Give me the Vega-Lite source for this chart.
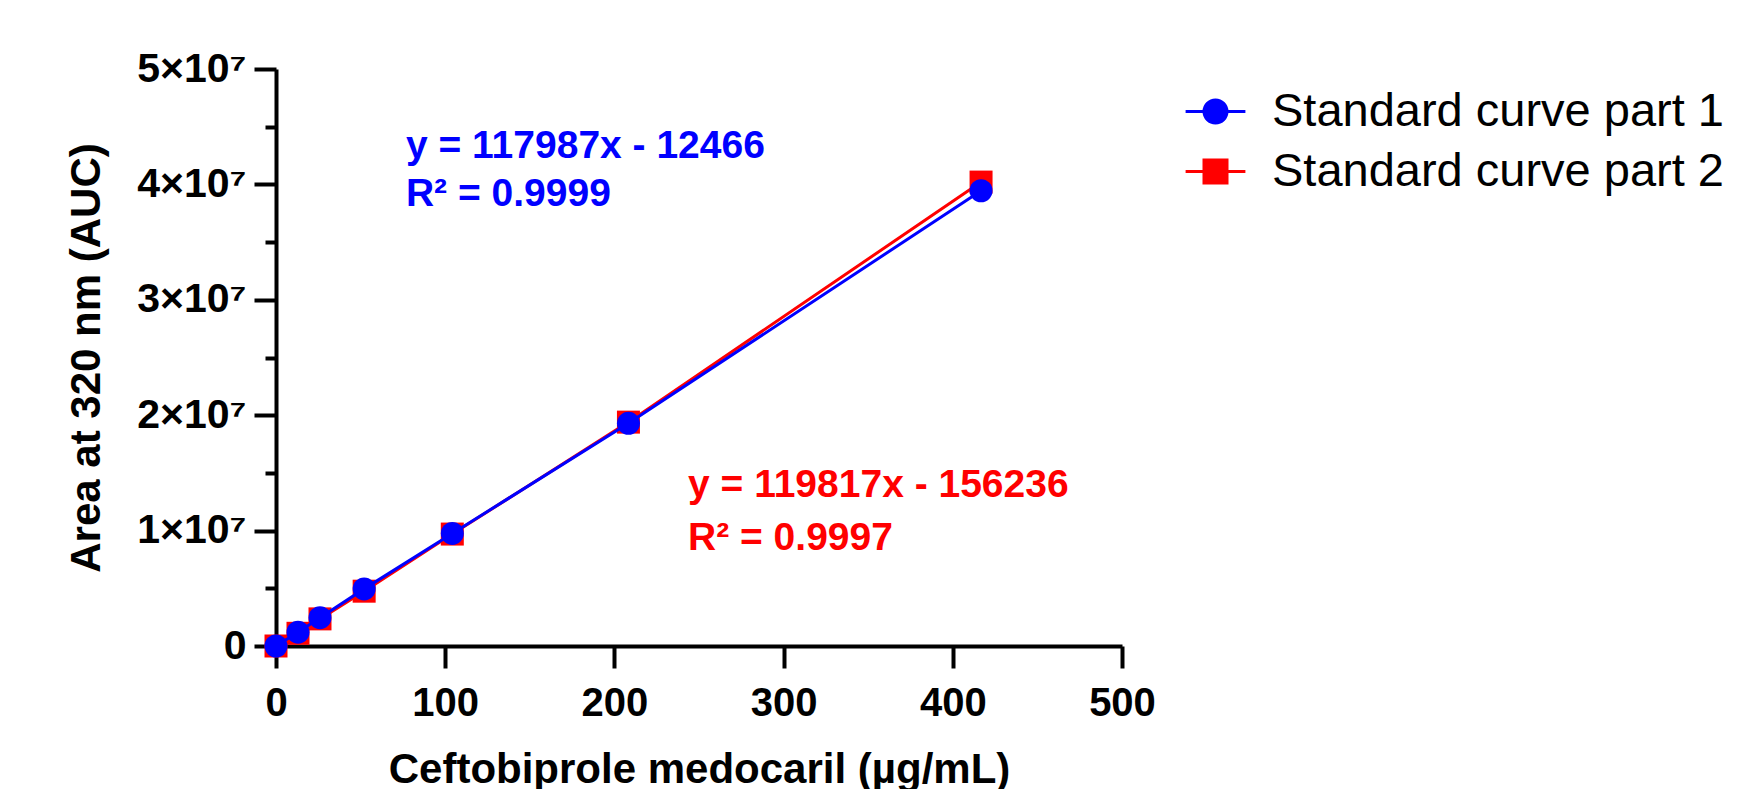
{
  "$schema": "https://vega.github.io/schema/vega-lite/v6.json",
  "width": 846,
  "height": 577,
  "autosize": {"type": "none"},
  "padding": {"left": 276, "top": 69, "right": 618, "bottom": 143},
  "background": "white",
  "config": {"view": {"stroke": null}, "font": "Liberation Sans"},
  "datasets": {
    "points": [
      {"conc": 0, "area": 0, "series": "Standard curve part 2"},
      {"conc": 13.0, "area": 1100000, "series": "Standard curve part 2"},
      {"conc": 26.0, "area": 2350000, "series": "Standard curve part 2"},
      {"conc": 52.1, "area": 4750000, "series": "Standard curve part 2"},
      {"conc": 104.2, "area": 9700000, "series": "Standard curve part 2"},
      {"conc": 208.3, "area": 19400000, "series": "Standard curve part 2"},
      {"conc": 416.7, "area": 40200000, "series": "Standard curve part 2"},
      {"conc": 0, "area": 0, "series": "Standard curve part 1"},
      {"conc": 13.0, "area": 1200000, "series": "Standard curve part 1"},
      {"conc": 26.0, "area": 2450000, "series": "Standard curve part 1"},
      {"conc": 52.1, "area": 4950000, "series": "Standard curve part 1"},
      {"conc": 104.2, "area": 9750000, "series": "Standard curve part 1"},
      {"conc": 208.3, "area": 19300000, "series": "Standard curve part 1"},
      {"conc": 416.7, "area": 39450000, "series": "Standard curve part 1"}
    ],
    "notes": [
      {"conc": 76.8, "area": 43300000, "label": "y = 117987x - 12466", "series": "Standard curve part 1"},
      {"conc": 76.8, "area": 39170000, "label": "R² = 0.9999", "series": "Standard curve part 1"},
      {"conc": 243.5, "area": 13950000, "label": "y = 119817x - 156236", "series": "Standard curve part 2"},
      {"conc": 243.5, "area": 9360000, "label": "R² = 0.9997", "series": "Standard curve part 2"}
    ]
  },
  "data": {"name": "points"},
  "encoding": {
    "x": {
      "field": "conc",
      "type": "quantitative",
      "scale": {"domain": [0, 500], "nice": false},
      "axis": {
        "values": [0, 100, 200, 300, 400, 500],
        "grid": false,
        "tickSize": 22,
        "tickWidth": 4,
        "tickColor": "black",
        "domainWidth": 4,
        "domainColor": "black",
        "labelFontSize": 40,
        "labelFontWeight": "bold",
        "labelColor": "black",
        "labelPadding": 15,
        "labelFlush": false,
        "labelOverlap": false,
        "title": "Ceftobiprole medocaril (µg/mL)",
        "titleFontSize": 42,
        "titleFontWeight": "bold",
        "titleColor": "black",
        "titlePadding": 26
      }
    },
    "y": {
      "field": "area",
      "type": "quantitative",
      "scale": {"domain": [0, 50000000], "nice": false},
      "axis": {
        "values": [0, 5000000, 10000000, 15000000, 20000000, 25000000, 30000000, 35000000, 40000000, 45000000, 50000000],
        "labelExpr": "datum.value === 0 ? '0' : (datum.value % 10000000 === 0 ? format(datum.value / 10000000, 'd') + '×10⁷' : '')",
        "grid": false,
        "tickSize": {"condition": {"test": "datum.value % 10000000 !== 0", "value": 11}, "value": 22},
        "tickWidth": 4,
        "tickColor": "black",
        "domainWidth": 4,
        "domainColor": "black",
        "labelFontSize": 41,
        "labelFontWeight": "bold",
        "labelColor": "black",
        "labelPadding": 8,
        "labelFlush": false,
        "labelOverlap": false,
        "title": "Area at 320 nm (AUC)",
        "titleFontSize": 42,
        "titleFontWeight": "bold",
        "titleColor": "black",
        "titlePadding": 28
      }
    },
    "color": {
      "field": "series",
      "type": "nominal",
      "scale": {"domain": ["Standard curve part 1", "Standard curve part 2"], "range": ["#0000ff", "#ff0000"]},
      "legend": {
        "title": null,
        "orient": "none",
        "legendX": 916,
        "legendY": 19,
        "padding": 0,
        "labelFontSize": 47,
        "labelFont": "Liberation Sans",
        "labelColor": "black",
        "labelLimit": 0,
        "symbolSize": 529,
        "symbolStrokeWidth": 3,
        "labelOffset": 33,
        "rowPadding": 12,
        "encode": {
          "symbols": {
            "update": {
              "shape": {"signal": "datum.value === 'Standard curve part 1' ? 'M-2.6,0H2.6M1,0A1,1,0,1,1,-1,0A1,1,0,1,1,1,0Z' : 'M-2.6,0H2.6M-1,-1H1V1H-1Z'"},
              "fill": {"scale": "color", "field": "value"},
              "stroke": {"scale": "color", "field": "value"},
              "strokeWidth": {"value": 3},
              "opacity": {"value": 1},
              "fillOpacity": {"value": 1}
            }
          }
        }
      }
    }
  },
  "layer": [
    {
      "transform": [{"filter": "datum.series === 'Standard curve part 2'"}],
      "mark": {"type": "line", "strokeWidth": 3}
    },
    {
      "transform": [{"filter": "datum.series === 'Standard curve part 2'"}],
      "mark": {"type": "point", "shape": "square", "size": 529, "filled": true, "opacity": 1}
    },
    {
      "transform": [{"filter": "datum.series === 'Standard curve part 1'"}],
      "mark": {"type": "line", "strokeWidth": 3}
    },
    {
      "transform": [{"filter": "datum.series === 'Standard curve part 1'"}],
      "mark": {"type": "point", "shape": "circle", "size": 529, "filled": true, "opacity": 1}
    },
    {
      "data": {"name": "notes"},
      "mark": {"type": "text", "align": "left", "baseline": "middle", "fontSize": 39, "fontWeight": "bold"},
      "encoding": {"text": {"field": "label"}}
    }
  ]
}
